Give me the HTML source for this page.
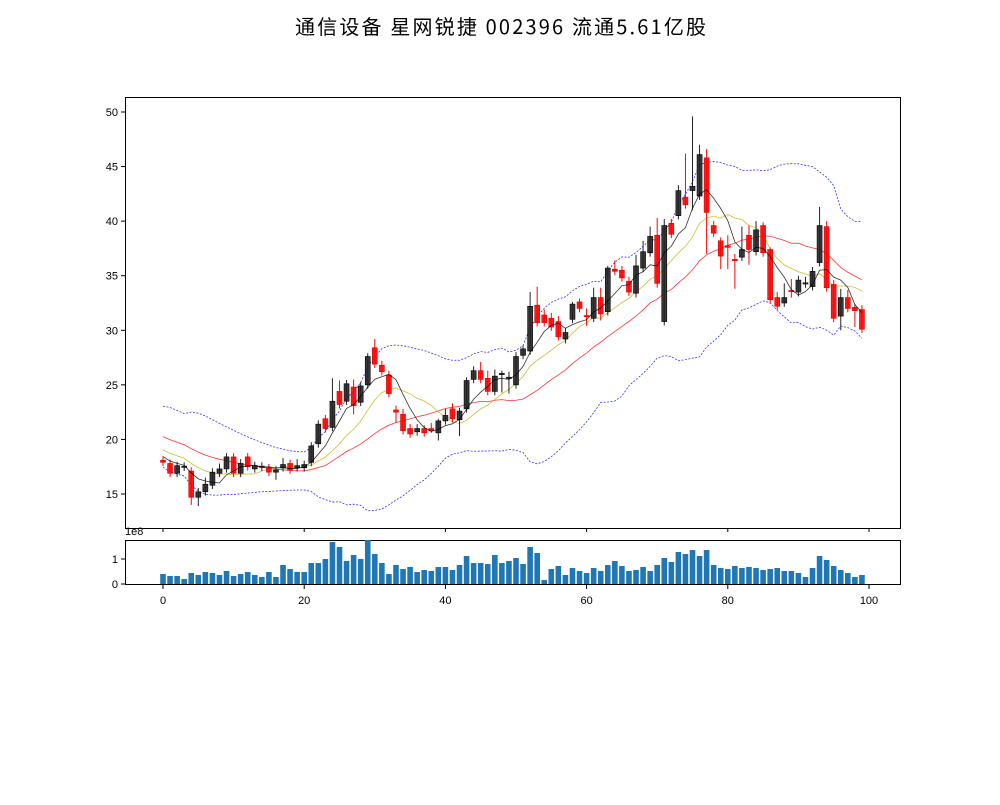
<!DOCTYPE html>
<html><head><meta charset="utf-8">
<style>
body{margin:0;background:#fff;}
svg text{font-family:"Liberation Sans","DejaVu Sans",sans-serif;}
</style></head>
<body>
<svg id="s" width="1000" height="800" xmlns="http://www.w3.org/2000/svg">
<rect width="1000" height="800" fill="#fff"/>
<text x="295" y="34" font-size="20" textLength="411" lengthAdjust="spacing" style="font-family:'WenQuanYi Zen Hei','Noto Sans CJK SC',sans-serif">通信设备 星网锐捷 002396 流通5.61亿股</text>
</svg>
<script>
var NS="http://www.w3.org/2000/svg",s=document.getElementById('s');
function el(t,a,txt){var e=document.createElementNS(NS,t);for(var k in a)e.setAttribute(k,a[k]);if(txt!==undefined)e.textContent=txt;s.appendChild(e);return e;}
var C=[[18.1,17.9,0],[17.8,16.9,0],[17.6,16.9,1],[17.55,17.45,1],[17.1,14.7,0,,14.0],[15.2,14.7,1,,13.9],[15.9,15.2,1,16.5],[17.0,15.8,1],[17.3,16.9,1,17.8],[18.4,17.3,1],
[18.4,16.9,0],[17.8,16.9,1,18.2],[18.4,17.5,0],[17.6,17.3,1],[17.55,17.45,1],[17.4,17.0,0],[17.2,17.0,1,,16.3],[17.7,17.4,1,18.3],[17.8,17.2,0],[17.6,17.4,1,18.2],
[17.7,17.4,1],[19.4,17.9,1],[21.4,19.6,1],[21.9,21.0,0],[23.5,21.1,1,25.6],[24.4,23.2,0,25.4],[25.1,23.5,1],[24.8,23.1,0,25.5,22.3],[24.9,23.4,1],[27.6,25.0,1,27.9],
[28.4,26.9,0,29.2],[26.8,26.2,0,27.2],[25.9,24.2,0,26.3],[22.7,22.5,0,23.1,21.5],[22.3,20.8,0,22.8],[21.0,20.5,0,21.4],[21.0,20.7,1,21.4],[21.0,20.6,0,21.3],[21.0,20.8,0,21.5,20.6],[21.7,20.6,1,21.9,19.9],
[22.2,21.7,1,22.8],[22.8,21.9,0,23.3],[22.6,21.8,1,22.9,20.3],[25.4,22.8,1,25.7],[26.3,25.5,1,26.7],[26.3,25.5,0,27.1],[25.6,24.4,0,26.3],[25.8,24.4,1,26.4],[26.05,25.95,1,26.3,24.3],[25.7,25.6,1,26.2,24.2],
[27.6,25.0,1,28.0],[28.3,27.7,1,28.6],[32.2,28.1,1,33.5],[32.3,30.7,0,34.0],[31.4,30.7,0,31.9],[31.1,30.3,0,31.6],[30.8,29.4,0,31.3],[29.8,29.2,1,30.2,28.8],[32.4,31.0,1,32.6],[32.6,32.0,0,32.9],
[31.35,31.25,0,32.0,30.4],[33.0,31.1,1,33.9],[33.0,31.5,0,33.9,30.9],[35.7,31.7,1,35.9],[35.6,35.4,0,36.4],[35.5,34.8,0,35.9],[34.5,33.5,0,34.9],[35.9,33.4,1,36.9,33.0],[37.2,35.7,1,38.2],[38.6,37.1,1,39.5],
[38.7,34.3,0,40.3,33.9],[39.6,30.8,1,40.2],[39.8,38.8,0,40.2],[42.8,40.5,1,43.3],[42.2,41.5,0,46.2],[43.2,42.8,1,49.6,41.0],[46.1,42.3,1,47.0],[45.8,40.8,0,46.6,37.0],[39.6,38.9,0,40.0],[38.2,36.8,0,38.5,35.6],
[37.75,37.6,0,38.7,35.6],[36.5,36.4,0,37.0,33.8],[37.4,36.7,1,39.5],[38.7,37.4,0,39.6,36.0],[39.2,37.2,1,40.0],[39.6,37.1,0,39.9],[37.4,32.8,0,37.6],[33.0,32.2,0,33.5],[33.0,32.5,1,34.3],[33.65,33.55,0,34.7,33.0],
[34.6,33.5,1,35.0,33.1],[34.35,34.25,1,34.9],[35.4,34.0,1,35.8],[39.6,36.2,1,41.3],[39.5,33.9,0,40.0],[34.2,31.1,0,34.6],[33.0,31.3,1,33.8,30.0],[33.0,32.0,0,33.7],[32.1,31.8,0,32.4,30.3],[31.9,30.1,0,32.3]];
var V=[.4,.32,.32,.2,.44,.36,.48,.44,.36,.52,.32,.4,.48,.36,.28,.48,.28,.76,.6,.48,
.48,.84,.84,1.0,1.68,1.48,.92,1.16,1.0,1.76,1.2,.84,.4,.76,.6,.68,.48,.56,.52,.68,
.68,.56,.76,1.12,.84,.84,.8,1.16,.84,.92,1.04,.8,1.48,1.24,.16,.6,.72,.36,.64,.52,
.44,.64,.52,.76,.92,.72,.52,.56,.68,.52,.76,1.04,.88,1.28,1.2,1.36,1.12,1.36,.76,.64,
.6,.72,.64,.68,.64,.56,.6,.64,.52,.52,.44,.28,.64,1.12,.96,.72,.56,.44,.28,.36];
function X(i){return 163+i*7.06;}
function Y(p){return 494-(p-15)*10.914;}
var cl=[];for(var k=0;k<20;k++)cl.push(22.8-k*4.6/19);
C.forEach(function(c){cl.push(c[2]?c[0]:c[1]);});
function ma(n,i){var t=0;for(var j=i-n+1;j<=i;j++)t+=cl[j];return t/n;}
var l5=[],l10=[],l20=[],up=[],dn=[];
for(var i=0;i<100;i++){var j=i+20,m=ma(20,j),v=0;for(var q=j-19;q<=j;q++)v+=(cl[q]-m)*(cl[q]-m);var sd=Math.sqrt(v/20);
l5.push(X(i)+','+Y(ma(5,j)));l10.push(X(i)+','+Y(ma(10,j)));l20.push(X(i)+','+Y(m));up.push(X(i)+','+Y(m+2*sd));dn.push(X(i)+','+Y(m-2*sd));}
el('polyline',{points:up.join(' '),fill:'none',stroke:'#00f','stroke-width':0.8,'stroke-dasharray':'2,1.5',opacity:0.8});
el('polyline',{points:dn.join(' '),fill:'none',stroke:'#00f','stroke-width':0.8,'stroke-dasharray':'2,1.5',opacity:0.8});
el('polyline',{points:l20.join(' '),fill:'none',stroke:'#f00','stroke-width':0.8,opacity:0.8});
el('polyline',{points:l10.join(' '),fill:'none',stroke:'#bbb000','stroke-width':0.8,opacity:0.8});
C.forEach(function(c,i){var col=c[2]?'#222':'#f00',x=X(i);
var hi=c[3]!==undefined&&c[3]!==null?c[3]:c[0]+0.35,lo=c[4]!==undefined?c[4]:c[1]-0.35;
el('line',{x1:x,x2:x,y1:Y(hi),y2:Y(lo),stroke:col,'stroke-width':1});
var h=Math.max(Y(c[1])-Y(c[0]),1.2);
el('rect',{x:x-2.5,y:Y(c[0]),width:5,height:h,fill:col,stroke:c[2]?'#000':'#d00','stroke-width':0.6,'fill-opacity':0.9});});
el('polyline',{points:l5.join(' '),fill:'none',stroke:'#000','stroke-width':0.8,opacity:0.8});
el('rect',{x:125.5,y:97.5,width:775,height:431,fill:'none',stroke:'#000','stroke-width':1});
el('rect',{x:125.5,y:540.5,width:775,height:44,fill:'none',stroke:'#000','stroke-width':1});
[15,20,25,30,35,40,45,50].forEach(function(p){var y=Y(p);el('line',{x1:121,x2:125,y1:y,y2:y,stroke:'#000'});el('text',{x:118,y:y+4,'text-anchor':'end','font-size':11},p);});
for(var t=0;t<=100;t+=20){var x=X(t);el('line',{x1:x,x2:x,y1:528,y2:532,stroke:'#000'});el('line',{x1:x,x2:x,y1:585,y2:589,stroke:'#000'});el('text',{x:x,y:604,'text-anchor':'middle','font-size':11},t);}
V.forEach(function(v,i){el('rect',{x:X(i)-2.8,y:584-v*25,width:5.6,height:v*25,fill:'#1f77b4'});});
[[0,584],[1,559]].forEach(function(a){el('line',{x1:121,x2:125,y1:a[1],y2:a[1],stroke:'#000'});el('text',{x:118,y:a[1]+4,'text-anchor':'end','font-size':11},a[0]);});
el('text',{x:125,y:535,'font-size':11},'1e8');
</script>
</body></html>
